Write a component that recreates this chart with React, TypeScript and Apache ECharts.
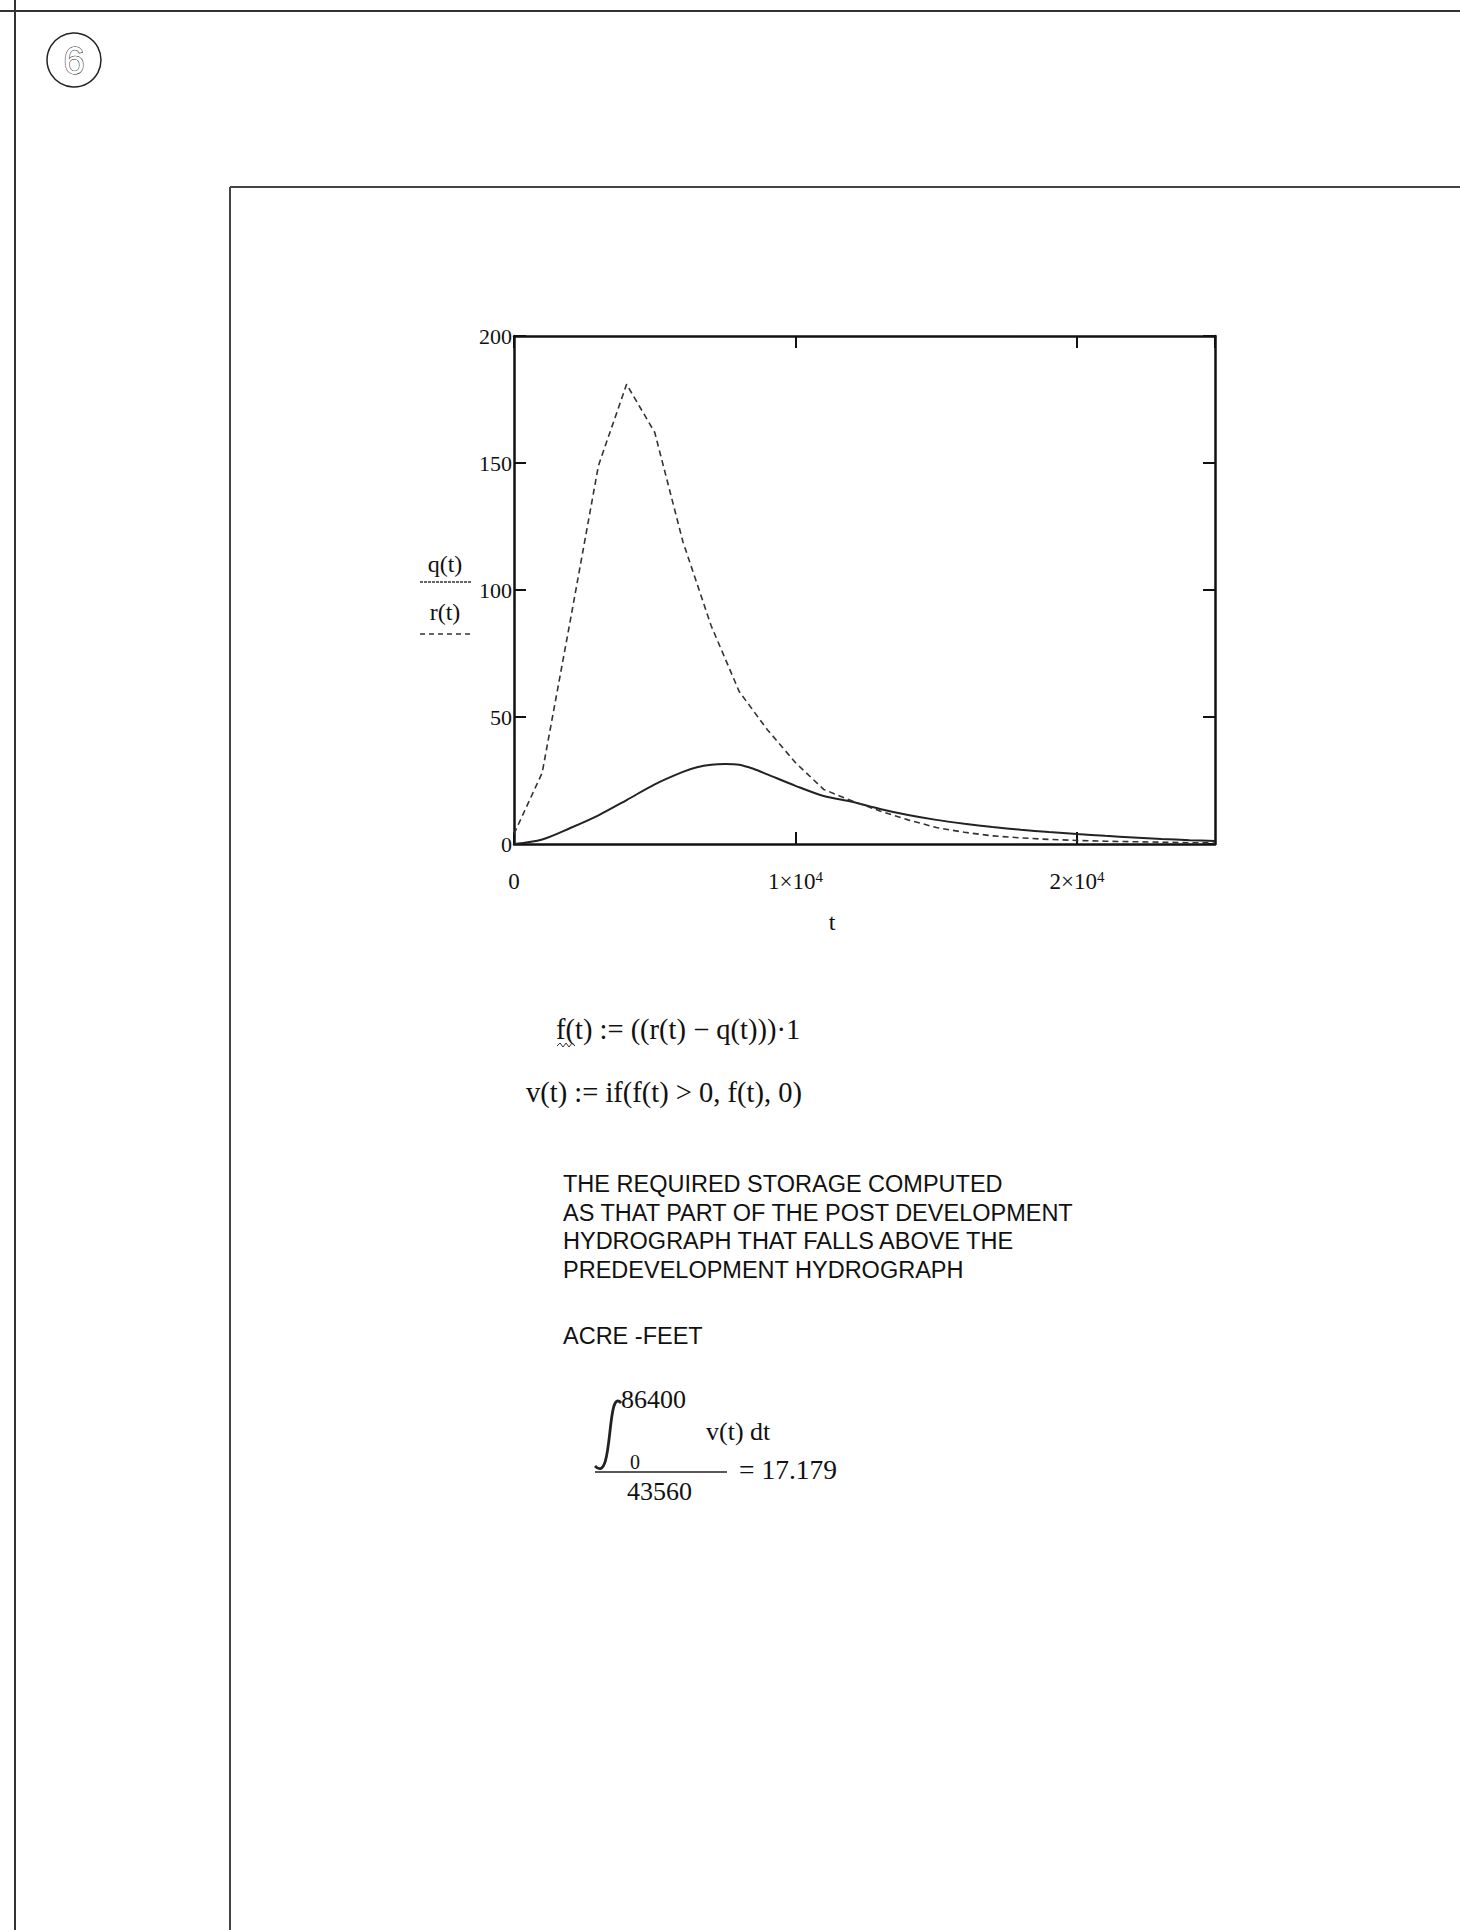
import React, { useEffect, useRef } from 'react';
import * as echarts from 'echarts';

// q(t): pre-development hydrograph (solid) — time in seconds
const TQ = [0, 1000, 2000, 3000, 4000, 5000, 6000, 6500, 7000, 7500, 8000, 8500, 9000, 10000, 11000,
  12000, 13000, 14000, 15000, 16000, 17000, 18000, 19000, 20000, 21000, 22000, 23000, 24000, 24900];
const Q = [0, 1.8, 6.3, 11.3, 17.3, 23.5, 28.4, 30.2, 31.2, 31.5, 31.2, 29.6, 27.4, 22.9, 18.9,
  16.6, 13.8, 11.4, 9.5, 8.0, 6.7, 5.6, 4.7, 3.9, 3.2, 2.6, 2.0, 1.5, 1.2];
// r(t): post-development hydrograph (dashed)
const TR = [0, 1000, 2000, 3000, 4000, 5000, 6000, 7000, 8000, 9000, 10000, 11000, 12000,
  13000, 14000, 15000, 16000, 17000, 18000, 19000, 20000, 21000, 22000, 23000, 24000, 24900];
const R = [4, 28, 88, 149, 181, 162, 119, 86, 60, 45, 32, 21.5, 17,
  13, 9.5, 6.5, 4.6, 3.2, 2.4, 1.8, 1.4, 1.1, 0.9, 0.7, 0.5, 0.4];

const Y_MIN = 0;
const Y_MAX = 200;
const Y_STEP = 50;
const X_MIN = 0;
const X_MAX = 24900;
const X_STEP = 10000;

const TEXT_BLOCK = [
  'THE REQUIRED STORAGE COMPUTED',
  'AS THAT PART OF THE POST DEVELOPMENT',
  'HYDROGRAPH THAT FALLS ABOVE THE',
  'PREDEVELOPMENT HYDROGRAPH',
];

const SERIF = '"Liberation Serif", "Times New Roman", serif';
const SANS = '"Liberation Sans", Arial, sans-serif';
const INK = '#111';

export default function App() {
  const ref = useRef<HTMLDivElement>(null);

  useEffect(() => {
    if (!ref.current) return;
    const chart = echarts.init(ref.current, undefined, { renderer: 'svg' });

    const xLabel = (v: number) => {
      if (v === 0) return '{n|0}';
      return `{n|${v / 10000}×10}{s|4}`;
    };
    const rich = {
      n: { fontFamily: SERIF, fontSize: 23, color: INK, lineHeight: 25 },
      s: { fontFamily: SERIF, fontSize: 15, color: INK, verticalAlign: 'top', lineHeight: 14 },
    };

    const axisLine = { show: true, onZero: false, lineStyle: { color: INK, width: 2.5 } };
    const axisTick = { show: true, inside: true, length: 12, lineStyle: { color: INK, width: 2 } };

    const textEl = (text: string, x: number, y: number, fontSize: number, family: string, align = 'left', extra: any = {}) => ({
      type: 'text',
      x,
      y,
      style: { text, fontSize, fontFamily: family, fill: INK, align, verticalAlign: 'middle', ...extra },
    });
    const lineEl = (x1: number, y1: number, x2: number, y2: number, width: number, color = '#333', dash?: number[]) => ({
      type: 'line',
      shape: { x1, y1, x2, y2 },
      style: { stroke: color, lineWidth: width, lineDash: dash },
    });

    const graphic: any[] = [
      lineEl(0, 11, 1460, 11, 2),
      lineEl(15, 0, 15, 1930, 2),
      { type: 'circle', shape: { cx: 74, cy: 60, r: 27 }, style: { fill: 'none', stroke: '#222', lineWidth: 1.5 } },
      textEl('6', 74, 61, 38, SANS, 'center', { fill: '#fff', stroke: '#222', lineWidth: 1 }),
      lineEl(230, 187, 1460, 187, 2, '#444'),
      lineEl(230, 187, 230, 1930, 2, '#444'),
      // x-axis title
      textEl('t', 832, 922, 24, SERIF, 'center'),
      // y-axis legend-style label
      textEl('q(t)', 445, 564, 24, SERIF, 'center'),
      lineEl(420, 582, 472, 582, 1.3, '#333', [3, 1]),
      textEl('r(t)', 445, 612, 24, SERIF, 'center'),
      lineEl(420, 634, 472, 634, 1.3, '#333', [5, 4]),
      // formulas
      textEl('f(t) := ((r(t) − q(t)))·1', 556, 1029, 28.5, SERIF),
      {
        type: 'polyline',
        shape: { points: [[557, 1046], [560, 1043], [563, 1047], [566, 1043], [569, 1047], [572, 1043], [575, 1046]] },
        style: { stroke: '#333', lineWidth: 1, fill: 'none' },
      },
      textEl('v(t) := if(f(t) > 0, f(t), 0)', 526, 1092, 28.5, SERIF),
      ...TEXT_BLOCK.map((s, i) => textEl(s, 563, 1184 + i * 28.7, 23.5, SANS)),
      textEl('ACRE -FEET', 563, 1336, 23.5, SANS),
      // integral
      {
        type: 'bezierCurve',
        shape: { x1: 621, y1: 1403, cpx1: 606, cpy1: 1386, cpx2: 614, cpy2: 1486, x2: 595, y2: 1466 },
        style: { stroke: '#222', lineWidth: 2.8, fill: 'none' },
      },
      textEl('86400', 621, 1399, 26, SERIF),
      textEl('v(t) dt', 706, 1431, 26, SERIF),
      textEl('0', 630, 1462, 20, SERIF),
      lineEl(595, 1472, 727, 1472, 1.5, '#222'),
      textEl('= 17.179', 739, 1469, 27.5, SERIF),
      textEl('43560', 627, 1491, 26, SERIF),
    ];

    chart.setOption({
      animation: false,
      backgroundColor: '#fff',
      grid: { left: 514, top: 336, right: 245, bottom: 1086, containLabel: false },
      xAxis: [
        {
          type: 'value', min: X_MIN, max: X_MAX, interval: X_STEP, position: 'bottom',
          axisLine, axisTick,
          axisLabel: { formatter: xLabel, rich, margin: 25, showMaxLabel: false },
          splitLine: { show: false },
        },
        {
          type: 'value', min: X_MIN, max: X_MAX, interval: X_STEP, position: 'top',
          axisLine, axisTick, axisLabel: { show: false }, splitLine: { show: false },
        },
      ],
      yAxis: [
        {
          type: 'value', min: Y_MIN, max: Y_MAX, interval: Y_STEP, position: 'left',
          axisLine, axisTick,
          axisLabel: { fontFamily: SERIF, fontSize: 22, color: INK, margin: 2 },
          splitLine: { show: false },
        },
        {
          type: 'value', min: Y_MIN, max: Y_MAX, interval: Y_STEP, position: 'right',
          axisLine, axisTick, axisLabel: { show: false }, splitLine: { show: false },
        },
      ],
      series: [
        {
          name: 'q(t)', type: 'line', symbol: 'none', smooth: 0.3,
          data: TQ.map((t, i) => [t, Q[i]]),
          lineStyle: { color: '#222', width: 2 },
        },
        {
          name: 'r(t)', type: 'line', symbol: 'none', smooth: false,
          data: TR.map((t, i) => [t, R[i]]),
          lineStyle: { color: '#333', width: 1.6, type: [6, 4] },
        },
      ],
      graphic,
    });

    return () => chart.dispose();
  }, []);

  return (
    <div
      ref={ref}
      style={{ position: 'absolute', left: 0, top: 0, width: 1460, height: 1930, background: '#fff' }}
    />
  );
}
